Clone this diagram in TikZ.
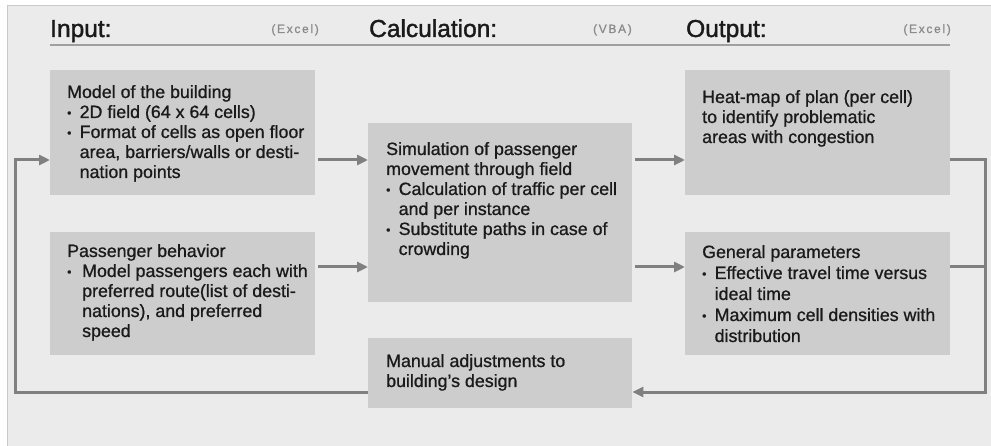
\documentclass[tikz,border=0pt]{standalone}
\usepackage{fontspec}
\setmainfont{Liberation Sans}
\usetikzlibrary{arrows.meta}

\definecolor{panelbg}{HTML}{EBEBEB}
\definecolor{panelrim}{HTML}{C9C9C9}
\definecolor{boxfill}{HTML}{CDCDCD}
\definecolor{wire}{HTML}{808080}
\definecolor{rule}{HTML}{A0A0A0}
\definecolor{ink}{HTML}{1A1A1A}
\definecolor{toolink}{HTML}{8A8A8A}

% a text block whose first baseline sits on the node's base anchor
\newcommand{\txtblock}[2][20]{\parbox[t]{300pt}{\fontsize{17.8}{#1}\selectfont\addfontfeature{FakeBold=0.9}\raggedright #2}}
\newcommand{\bul}{\makebox[12.5pt][l]{\fontsize{12}{12}\selectfont\raisebox{1pt}{•}}}
\newcommand{\ind}{\hspace*{12.5pt}}

\tikzset{
  flowbox/.style={draw=none, fill=boxfill, rectangle, inner sep=0pt, anchor=north west},
  boxtext/.style={anchor=base west, inner sep=0pt, text=ink},
  header/.style={anchor=base west, inner sep=0pt, text=ink,
    font=\fontsize{24.5}{26}\selectfont\addfontfeature{FakeBold=1.6}},
  toollabel/.style={anchor=base east, inner sep=0pt, text=toolink,
    font=\fontsize{12}{13}\selectfont\addfontfeature{LetterSpace=14,FakeBold=0.8}},
  wireline/.style={draw=wire, line width=3pt, line join=miter},
  conn/.style={wireline, -{Triangle[length=11pt,width=10pt]}},
}

\begin{document}
\begin{tikzpicture}[x=1pt, y=-1pt]
  \useasboundingbox (0,0) rectangle (991,446);
  \fill[white] (0,0) rectangle (991,446);
  \draw[fill=panelbg, draw=panelrim, line width=1pt] (7,6) rectangle (995,450);

  % column headers
  \node[header] (hin) at (50,37) {Input:};
  \node[header] (hcalc) at (369,37) {Calculation:};
  \node[header] (hout) at (686,37) {Output:};
  \node[toollabel] (tin) at (319,33) {(Excel)};
  \node[toollabel] (tcalc) at (632,33) {(VBA)};
  \node[toollabel] (tout) at (951,33) {(Excel)};
  \draw[rule, line width=2.5pt] (50,45) -- (950,45);

  % boxes
  \node[flowbox, minimum width=265pt, minimum height=125pt] (model) at (50,70) {};
  \node[flowbox, minimum width=265pt, minimum height=123pt] (pass) at (50,232) {};
  \node[flowbox, minimum width=264pt, minimum height=179pt] (sim) at (368,123) {};
  \node[flowbox, minimum width=264pt, minimum height=70pt] (man) at (368,338) {};
  \node[flowbox, minimum width=265pt, minimum height=125pt] (heat) at (685,70) {};
  \node[flowbox, minimum width=265pt, minimum height=123pt] (gen) at (685,232) {};

  % box texts
  \node[boxtext] (modeltxt) at (67,98) {\txtblock{Model of the building\\
    \bul 2D field (64 x 64 cells)\\
    \bul Format of cells as open floor\\
    \ind area, barriers/walls or desti-\\
    \ind nation points}};
  \node[boxtext] (passtxt) at (67,257) {\txtblock{Passenger behavior\\
    \makebox[15pt][l]{\fontsize{12}{12}\selectfont\raisebox{1pt}{•}}Model passengers each with\\
    \hspace*{15pt}preferred route(list of desti-\\
    \hspace*{15pt}nations), and preferred\\
    \hspace*{15pt}speed}};
  \node[boxtext] (simtxt) at (386,155) {\txtblock{Simulation of passenger\\
    movement through field\\
    \bul Calculation of traffic per cell\\
    \ind and per instance\\
    \bul Substitute paths in case of\\
    \ind crowding}};
  \node[boxtext] (mantxt) at (386,367) {\txtblock{Manual adjustments to\\
    building's design}};
  \node[boxtext] (heattxt) at (702,103) {\txtblock{Heat-map of plan (per cell)\\
    to identify problematic\\
    areas with congestion}};
  \node[boxtext] (gentxt) at (702,258) {\txtblock[21]{General parameters\\
    \bul Effective travel time versus\\
    \ind ideal time\\
    \bul Maximum cell densities with\\
    \ind distribution}};

  % connector rows and rails
  \coordinate (rowA) at (0,160);
  \coordinate (rowB) at (0,267);
  \coordinate (rowC) at (0,392);
  \coordinate (railL) at (15,0);
  \coordinate (railR) at (985,0);

  \draw[conn, shorten <=3pt] (model.east |- rowA) -- (sim.west |- rowA);
  \draw[conn, shorten <=3pt] (pass.east |- rowB) -- (sim.west |- rowB);
  \draw[conn, shorten <=3pt] (sim.east |- rowA) -- (heat.west |- rowA);
  \draw[conn, shorten <=3pt] (sim.east |- rowB) -- (gen.west |- rowB);

  % feedback loop
  \draw[wireline] (gen.east |- rowB) -- (railR |- rowB);
  \draw[conn] (heat.east |- rowA) -- (railR |- rowA) -- (railR |- rowC) -- (man.east |- rowC);
  \draw[conn] (man.west |- rowC) -- (railL |- rowC) -- (railL |- rowA) -- (model.west |- rowA);
\end{tikzpicture}
\end{document}
